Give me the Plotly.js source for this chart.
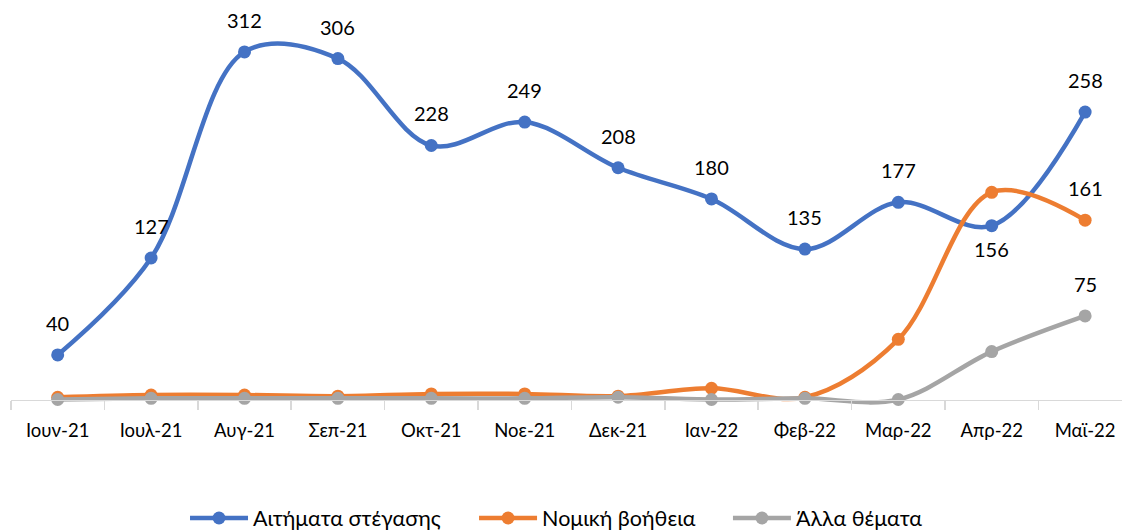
<!DOCTYPE html>
<html>
<head>
<meta charset="utf-8">
<script src="https://cdn.plot.ly/plotly-3.0.1.min.js"></script>
<style>html,body{margin:0;padding:0;background:#fff;}#chart{width:1122px;height:532px;}</style>
</head>
<body>
<div id="chart"></div>
<script>
const months = ["Ιουν-21","Ιουλ-21","Αυγ-21","Σεπ-21","Οκτ-21","Νοε-21","Δεκ-21","Ιαν-22","Φεβ-22","Μαρ-22","Απρ-22","Μαϊ-22"];
const housing = [40,127,312,306,228,249,208,180,135,177,156,258];
const legal = [2,4,4,3,5,5,3,10,2,54,186,161];
const other = [0,1,1,1,1,1,2,0,1,0,43,75];
const seriesNames = ["Αιτήματα στέγασης","Νομική βοήθεια","Άλλα θέματα"];
const colors = ["#4472C4","#ED7D31","#A5A5A5"];
const housingLabelBelow = [10];
const labelledOther = [[1,11],[2,11]];

const seriesData = [housing, legal, other];
const legendIds = ['legend','legend2','legend3'];
const traces = seriesData.map((vals, s) => ({
  x: months, y: vals, name: seriesNames[s], type: 'scatter', mode: 'lines+markers',
  line: {color: colors[s], width: 4.5, shape: 'spline', smoothing: 1},
  marker: {color: colors[s], size: 13},
  legend: legendIds[s],
  cliponaxis: false, hoverinfo: 'skip'
}));

const labelFont = {family: 'Lato, sans-serif', size: 20, color: '#000'};
const annotations = [];
housing.forEach((v, i) => {
  const below = housingLabelBelow.includes(i);
  annotations.push({x: months[i], y: v, xref: 'x', yref: 'y', text: String(v), showarrow: false,
    yshift: below ? -23 : 32, font: labelFont});
});
labelledOther.forEach(([s, i]) => {
  const v = seriesData[s][i];
  annotations.push({x: months[i], y: v, xref: 'x', yref: 'y', text: String(v), showarrow: false,
    yshift: 32, font: labelFont});
});

function legendAt(xc) {
  return {orientation: 'h', xref: 'container', yref: 'container', x: xc, xanchor: 'left',
    y: 0.0263, yanchor: 'middle', bgcolor: 'rgba(0,0,0,0)',
    font: {family: 'Lato, sans-serif', size: 21.5, color: '#000'}, itemwidth: 58};
}

const layout = {
  width: 1122, height: 532,
  margin: {l: 11, r: 0, t: 0, b: 60},
  paper_bgcolor: '#fff', plot_bgcolor: '#fff',
  showlegend: true,
  legend: legendAt(0.1649),
  legend2: legendAt(0.4225),
  legend3: legendAt(0.6488),
  xaxis: {type: 'category', range: [-0.5, 11.395], anchor: 'free', position: 0.1536,
    showline: true, linecolor: '#D9D9D9', linewidth: 1.5, ticks: 'outside', tickson: 'boundaries',
    ticklen: 9, tickcolor: '#D9D9D9', tickwidth: 1.5, showgrid: false, zeroline: false,
    ticklabelstandoff: 14, automargin: false,
    tickfont: {family: 'Lato, sans-serif', size: 18.5, color: '#000'}},
  yaxis: {range: [-65.1, 358.6], visible: false, showgrid: false, zeroline: false},
  annotations: annotations
};
Plotly.newPlot('chart', traces, layout, {staticPlot: true});
</script>
</body>
</html>
